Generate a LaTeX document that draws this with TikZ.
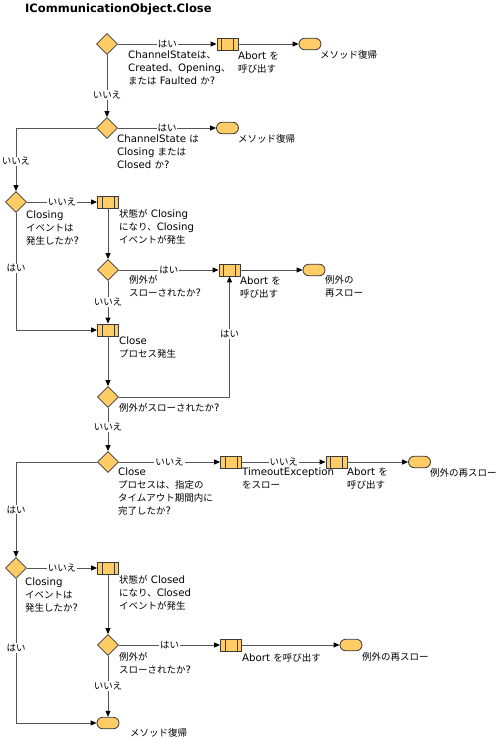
\documentclass[tikz,border=0pt]{standalone}
\usepackage{fontspec}
\setmainfont{DejaVu Sans}
\newfontfamily\jpf[Scale=0.93]{Noto Sans CJK JP}
\newcommand\JP[1]{{\jpf #1}}
\usetikzlibrary{shapes.geometric,shapes.misc,arrows.meta}
\definecolor{shapefill}{HTML}{FFCC66}
\definecolor{linecol}{HTML}{555555}
\definecolor{edgecol}{HTML}{3A3A3A}
\tikzset{
  dec/.style={diamond, draw=edgecol, fill=shapefill, minimum width=21pt, minimum height=21pt, inner sep=0pt, line width=0.8pt},
  proc/.style={rectangle, draw=edgecol, fill=shapefill, minimum width=21pt, minimum height=12pt, inner sep=0pt, line width=0.8pt,
    path picture={\draw[edgecol, line width=0.8pt]
      ([xshift=4.5pt]path picture bounding box.north west) -- ([xshift=4.5pt]path picture bounding box.south west)
      ([xshift=-4.5pt]path picture bounding box.north east) -- ([xshift=-4.5pt]path picture bounding box.south east);}},
  term/.style={rounded rectangle, draw=edgecol, fill=shapefill, minimum width=22pt, minimum height=11.5pt, inner sep=0pt, line width=0.8pt},
  conn/.style={draw=linecol, line width=0.9pt, -{Triangle[length=6pt,width=5pt,color=black]}},
  lbl/.style={fill=white, inner sep=1pt, font=\fontsize{10.2}{13}\selectfont\jpf},
  txt/.style={anchor=north west, inner sep=0pt, align=left, font=\fontsize{10.2}{13}\selectfont},
}
\begin{document}
\begin{tikzpicture}[x=1pt,y=-1pt]
\fill[white] (0,0) rectangle (501,739);
\useasboundingbox (0,0) rectangle (501,739);
\node[anchor=base west, inner sep=0pt, font=\fontsize{11.5}{14}\selectfont\bfseries] (title) at (25,12) {ICommunicationObject.Close};
% shapes
\node[dec] (d1) at (107,44) {};
\node[proc] (p1) at (227.5,44) {};
\node[term] (t1) at (310,44) {};
\node[dec] (d2) at (107,128) {};
\node[term] (t2) at (227.5,128) {};
\node[dec] (d3) at (16,202) {};
\node[proc] (p2) at (108,202) {};
\node[dec] (d4) at (108,270) {};
\node[proc] (p3) at (229.5,270) {};
\node[term] (t3) at (314,270) {};
\node[proc] (p4) at (108,330) {};
\node[dec] (d5) at (108,397) {};
\node[dec] (d6) at (108,462) {};
\node[proc] (p5) at (231,462) {};
\node[proc] (p6) at (336.5,462) {};
\node[term] (t4) at (419.5,462) {};
\node[dec] (d7) at (16,568) {};
\node[proc] (p7) at (108,568) {};
\node[dec] (d8) at (108,645) {};
\node[proc] (p8) at (231,645) {};
\node[term] (t5) at (351,645) {};
\node[term] (t6) at (108,723) {};
% texts
\node[txt] (xd1) at (128,51) {ChannelState\JP{は、}\\Created\JP{、}Opening\JP{、}\\\JP{または} Faulted \JP{か}?};
\node[txt] (xp1) at (238,52) {Abort \JP{を}\\\JP{呼び出す}};
\node[txt] (xt1) at (320,50) {\JP{メソッド復帰}};
\node[txt] (xd2) at (117,135) {ChannelState \JP{は}\\Closing \JP{または}\\Closed \JP{か}?};
\node[txt] (xt2) at (238,134) {\JP{メソッド復帰}};
\node[txt] (xd3) at (26,211) {Closing\\\JP{イベントは}\\\JP{発生したか}?};
\node[txt] (xp2) at (119,209) {\JP{状態が} Closing\\\JP{になり、}Closing\\\JP{イベントが発生}};
\node[txt] (xd4) at (129,275) {\JP{例外が}\\\JP{スローされたか}?};
\node[txt] (xp3) at (240,277) {Abort \JP{を}\\\JP{呼び出す}};
\node[txt] (xt3) at (325,275) {\JP{例外の}\\\JP{再スロー}};
\node[txt] (xp4) at (119,337) {Close\\\JP{プロセス発生}};
\node[txt] (xd5) at (119,403) {\JP{例外がスローされたか}?};
\node[txt] (xd6) at (118,468) {Close\\\JP{プロセスは、指定の}\\\JP{タイムアウト期間内に}\\\JP{完了したか}?};
\node[txt] (xp5) at (242,468) {TimeoutException\\\JP{をスロー}};
\node[txt] (xp6) at (347,468) {Abort \JP{を}\\\JP{呼び出す}};
\node[txt] (xt4) at (430,468) {\JP{例外の再スロー}};
\node[txt] (xd7) at (25,578) {Closing\\\JP{イベントは}\\\JP{発生したか}?};
\node[txt] (xp7) at (119,575) {\JP{状態が} Closed\\\JP{になり、}Closed\\\JP{イベントが発生}};
\node[txt] (xd8) at (119,652) {\JP{例外が}\\\JP{スローされたか}?};
\node[txt] (xp8) at (242,653) {Abort \JP{を呼び出す}};
\node[txt] (xt5) at (362,652) {\JP{例外の再スロー}};
\node[txt] (xt6) at (130,728) {\JP{メソッド復帰}};
% connectors
\draw[conn] (d1) -- node[lbl]{はい} (p1);
\draw[conn] (p1) -- (t1);
\draw[conn] (d1) -- node[lbl,pos=0.65]{いいえ} (d2);
\draw[conn] (d2) -- node[lbl]{はい} (t2);
\draw[conn] (d2.west) -| node[lbl,pos=0.765]{いいえ} (d3.north);
\draw[conn] (d3) -- node[lbl]{いいえ} (p2);
\draw[conn] (p2) -- (d4);
\draw[conn] (d4) -- node[lbl]{はい} (p3);
\draw[conn] (p3) -- (t3);
\draw[conn] (d4) -- node[lbl]{いいえ} (p4);
\draw[conn] (d3.south) |- node[lbl,pos=0.237]{はい} (p4.west);
\draw[conn] (p4) -- (d5);
\draw[conn] (d5.east) -| node[lbl,pos=0.76]{はい} (p3.south);
\draw[conn] (d5) -- node[lbl,pos=0.45]{いいえ} (d6);
\draw[conn] (d6) -- node[lbl]{いいえ} (p5);
\draw[conn] (p5) -- node[lbl]{いいえ} (p6);
\draw[conn] (p6) -- (t4);
\draw[conn] (d6.west) -| node[lbl,pos=0.75]{はい} (d7.north);
\draw[conn] (d7) -- node[lbl]{いいえ} (p7);
\draw[conn] (p7) -- (d8);
\draw[conn] (d8) -- node[lbl]{はい} (p8);
\draw[conn] (p8) -- (t5);
\draw[conn] (d8) -- node[lbl]{いいえ} (t6);
\draw[conn] (d7.south) |- node[lbl,pos=0.24]{はい} (t6.west);
\end{tikzpicture}
\end{document}
